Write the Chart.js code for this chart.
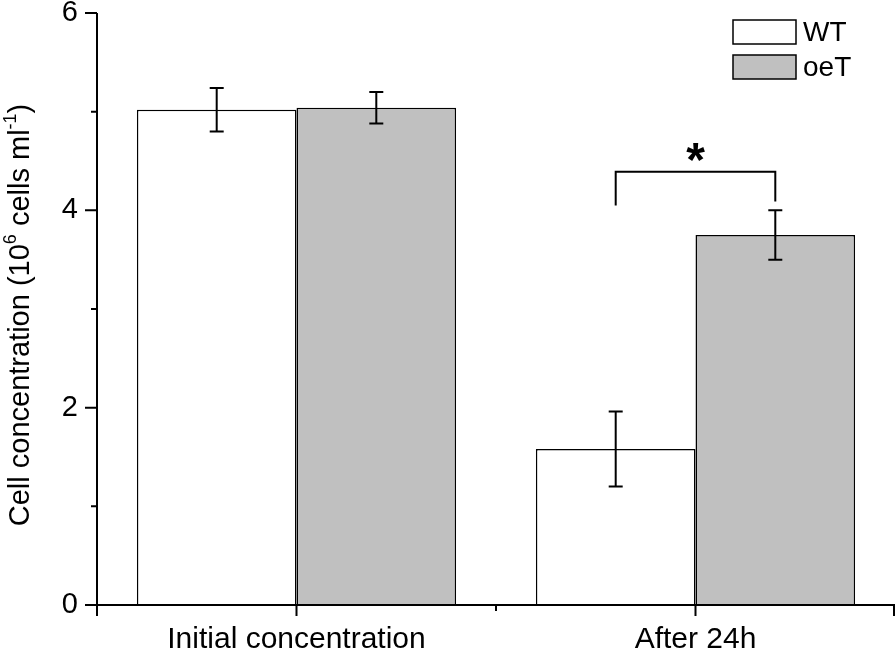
<!DOCTYPE html>
<html>
<head>
<meta charset="utf-8">
<script src="https://cdn.jsdelivr.net/npm/chart.js@4"></script>
<style>
  html, body { margin: 0; padding: 0; background: #fff; }
  #wrap { width: 896px; height: 650px; position: relative; }
</style>
</head>
<body>
<div id="wrap"><canvas id="c"></canvas></div>
<script>
// data
const categories = ['Initial concentration', 'After 24h'];
const seriesNames = ['WT', 'oeT'];
const wtValues = [5.02, 1.58];
const wtErr = [0.22, 0.38];
const oetValues = [5.04, 3.75];
const oetErr = [0.16, 0.25];
const yMajorTicks = [0, 2, 4, 6];
const yMinorTicks = [1, 3, 5];

const FONT = '"Liberation Sans", Arial, sans-serif';

// error bars, axis ticks, legend, bracket and y title
const extras = {
    id: 'extras',
    afterDatasetsDraw(chart) {
        const ctx = chart.ctx;
        const ys = chart.scales.y, xs = chart.scales.x;
        const errs = [wtErr, oetErr];
        ctx.save();
        ctx.strokeStyle = '#000';
        ctx.lineWidth = 2;
        chart.data.datasets.forEach((ds, di) => {
            chart.getDatasetMeta(di).data.forEach((bar, i) => {
                const v = ds.data[i], e = errs[di][i];
                const yHi = ys.getPixelForValue(v + e), yLo = ys.getPixelForValue(v - e);
                ctx.beginPath();
                ctx.moveTo(bar.x, yHi); ctx.lineTo(bar.x, yLo);
                ctx.moveTo(bar.x - 7, yHi); ctx.lineTo(bar.x + 7, yHi);
                ctx.moveTo(bar.x - 7, yLo); ctx.lineTo(bar.x + 7, yLo);
                ctx.stroke();
            });
        });

        // significance bracket over After 24h
        const b0 = chart.getDatasetMeta(0).data[1], b1 = chart.getDatasetMeta(1).data[1];
        const yTop = ys.getPixelForValue(4.39);
        ctx.beginPath();
        ctx.moveTo(b0.x, ys.getPixelForValue(4.05));
        ctx.lineTo(b0.x, yTop);
        ctx.lineTo(b1.x, yTop);
        ctx.lineTo(b1.x, ys.getPixelForValue(4.09));
        ctx.stroke();
        ctx.fillStyle = '#000';
        ctx.font = 'bold 48px ' + FONT;
        ctx.textAlign = 'center';
        ctx.textBaseline = 'alphabetic';
        const m = ctx.measureText('*');
        const starY = ys.getPixelForValue(4.59);
        ctx.fillText('*', (b0.x + b1.x) / 2, starY + (m.actualBoundingBoxAscent - m.actualBoundingBoxDescent) / 2);

        // axes lines and ticks
        const left = chart.chartArea.left, right = chart.chartArea.right, bottom = chart.chartArea.bottom;
        ctx.lineWidth = 2;
        ctx.beginPath();
        ctx.moveTo(left, ys.getPixelForValue(6)); ctx.lineTo(left, bottom);
        ctx.moveTo(left - 12, bottom); ctx.lineTo(right, bottom);
        yMajorTicks.forEach(t => { const p = ys.getPixelForValue(t); ctx.moveTo(left - 12, p); ctx.lineTo(left, p); });
        yMinorTicks.forEach(t => { const p = ys.getPixelForValue(t); ctx.moveTo(left - 6, p); ctx.lineTo(left, p); });
        [left, xs.getPixelForValue(0), xs.getPixelForValue(1), right - 1].forEach(p => { ctx.moveTo(p, bottom); ctx.lineTo(p, bottom + 11); });
        const mid = (xs.getPixelForValue(0) + xs.getPixelForValue(1)) / 2;
        ctx.moveTo(mid, bottom); ctx.lineTo(mid, bottom + 6);
        ctx.stroke();

        // legend
        ctx.font = '28px ' + FONT;
        ctx.textAlign = 'left';
        ctx.textBaseline = 'middle';
        const fills = ['#ffffff', '#c0c0c0'];
        seriesNames.forEach((name, i) => {
            const y0 = 20 + i * 35;
            ctx.fillStyle = fills[i];
            ctx.fillRect(733, y0, 63, 24);
            ctx.lineWidth = 1.5;
            ctx.strokeRect(733, y0, 63, 24);
            ctx.fillStyle = '#000';
            ctx.fillText(name, 803, y0 + 13);
        });

        // rotated y title with superscripts
        ctx.translate(21, 315);
        ctx.rotate(-Math.PI / 2);
        ctx.textBaseline = 'middle';
        const parts = [['Cell concentration (10', 29, 0], ['6', 18, -10], [' cells ml', 29, 0], ['-1', 18, -10], [')', 29, 0]];
        let w = 0;
        parts.forEach(p => { ctx.font = p[1] + 'px ' + FONT; w += ctx.measureText(p[0]).width; });
        let x = -w / 2;
        parts.forEach(p => {
            ctx.font = p[1] + 'px ' + FONT;
            ctx.fillText(p[0], x, p[2]);
            x += ctx.measureText(p[0]).width;
        });
        ctx.restore();
    }
};

new Chart(document.getElementById('c'), {
    type: 'bar',
    data: {
        labels: categories,
        datasets: [
            { label: seriesNames[0], data: wtValues, backgroundColor: '#ffffff', borderColor: '#000', borderWidth: 1.5 },
            { label: seriesNames[1], data: oetValues, backgroundColor: '#c0c0c0', borderColor: '#000', borderWidth: 1.5 }
        ]
    },
    options: {
        responsive: true,
        maintainAspectRatio: false,
        animation: false,
        layout: { padding: { top: 13, right: 1, left: 0, bottom: 0 } },
        datasets: { bar: { categoryPercentage: 0.8, barPercentage: 1.0 } },
        plugins: { legend: { display: false }, tooltip: { enabled: false } },
        scales: {
            x: {
                grid: { display: false },
                border: { display: false },
                ticks: { color: '#000', font: { family: FONT, size: 30 }, padding: 9 },
                afterFit: s => { s.height = 45; s.paddingLeft = 0; s.paddingRight = 0; }
            },
            y: {
                min: 0, max: 6,
                grid: { display: false },
                border: { display: false },
                ticks: {
                    stepSize: 1,
                    color: '#000',
                    font: { family: FONT, size: 29 },
                    padding: 11,
                    callback: v => (yMajorTicks.includes(v) ? v : '')
                },
                afterFit: s => { s.width = 97; s.paddingTop = 0; s.paddingBottom = 0; }
            }
        }
    },
    plugins: [extras]
});
</script>
</body>
</html>
